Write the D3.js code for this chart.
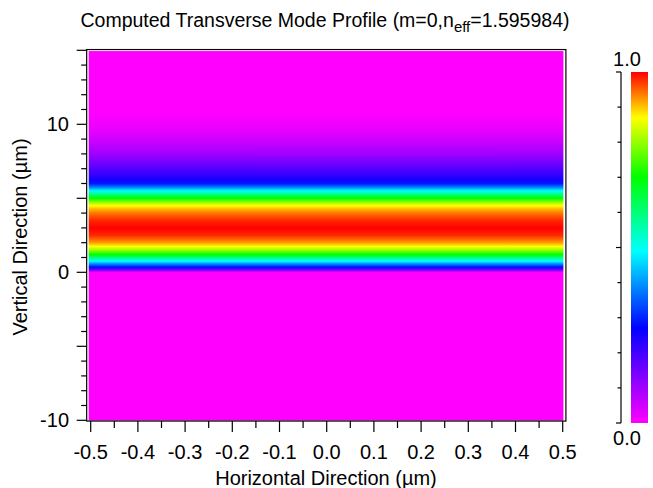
<!DOCTYPE html>
<html>
<head>
<meta charset="utf-8">
<script src="https://cdn.jsdelivr.net/npm/d3@7"></script>
<style>
  body { margin: 0; background: #fff; }
  text { font-family: "Liberation Sans", Arial, sans-serif; fill: #000; }
</style>
</head>
<body>
<script>
// vertical positions (um) and normalized mode intensity
var yPos = [-10, 0, 0.15, 0.35, 0.55, 0.75, 1.0, 1.2, 1.5, 1.75, 2.0, 2.25, 2.5, 2.75, 3.0, 3.25, 3.5, 3.75, 4.0, 4.25, 4.5, 4.75, 5.0, 5.25, 5.5, 5.75, 6.0, 6.25, 6.5, 7.0, 7.5, 8.0, 8.5, 9.0, 9.5, 10.0, 10.5, 11.0, 15];
var intensity = [0, 0, 0.15, 0.28, 0.38, 0.49, 0.6, 0.7, 0.8, 0.87, 0.92, 0.95, 0.98, 0.99, 1.0, 0.99, 0.98, 0.96, 0.94, 0.91, 0.87, 0.79, 0.7, 0.6, 0.5, 0.38, 0.29, 0.25, 0.22, 0.18, 0.14, 0.1, 0.075, 0.05, 0.03, 0.015, 0.006, 0, 0];

// colour map
var cmapStops = [0, 0.27, 0.49, 0.70, 0.87, 1.0];
var cmapColors = ["#ff00ff", "#0000ff", "#00ffff", "#00ff00", "#ffff00", "#ff0000"];

var xTicks = [-0.5, -0.4, -0.3, -0.2, -0.1, 0.0, 0.1, 0.2, 0.3, 0.4, 0.5];
var yLabels = [-10, 0, 10];
var cbTicks = [0, 0.1, 0.2, 0.3, 0.4, 0.5, 0.6, 0.7, 0.8, 0.9, 1.0];

var width = 653, height = 488;
var svg = d3.select('body').append('svg').attr('width', width).attr('height', height);

var x = d3.scaleLinear().domain([-0.5, 0.5]).range([90.7, 562.7]);
var y = d3.scaleLinear().domain([-10, 15]).range([420.3, 50.3]);
var color = d3.scaleLinear().domain(cmapStops).range(cmapColors).clamp(true);

// frame extends slightly past the axis range
var fx0 = x(-0.5085), fx1 = x(0.5068), fy0 = y(15.05), fy1 = y(-10.05);

// mode image as vertical gradient
var defs = svg.append('defs');
var grad = defs.append('linearGradient').attr('id', 'mode')
  .attr('gradientUnits', 'userSpaceOnUse')
  .attr('x1', 0).attr('x2', 0).attr('y1', y(15)).attr('y2', y(-10));
var stops = yPos.map(function(v, i){ return {y: v, c: intensity[i]}; }).reverse();
grad.selectAll('stop').data(stops).enter().append('stop')
  .attr('offset', function(d){ return (y(d.y) - y(15)) / (y(-10) - y(15)); })
  .attr('stop-color', function(d){ return color(d.c); });

svg.append('rect')
  .attr('x', fx0 + 2).attr('y', fy0 + 1.5)
  .attr('width', fx1 - fx0 - 4.5).attr('height', fy1 - fy0 - 2)
  .attr('fill', 'url(#mode)');

svg.append('rect')
  .attr('x', fx0).attr('y', fy0).attr('width', fx1 - fx0).attr('height', fy1 - fy0)
  .attr('fill', 'none').attr('stroke', '#000').attr('stroke-width', 1.2);

// x axis
var xAxisG = svg.append('g');
var xMinor = d3.range(-0.5, 0.501, 0.05);
xAxisG.selectAll('line.minor').data(xMinor).enter().append('line')
  .attr('x1', function(d){ return x(d); }).attr('x2', function(d){ return x(d); })
  .attr('y1', fy1).attr('y2', function(d, i){ return fy1 + (i % 2 === 0 ? 11 : 7); })
  .attr('stroke', '#000').attr('stroke-width', 1.2);
xAxisG.selectAll('text').data(xTicks).enter().append('text')
  .attr('x', function(d){ return x(d); }).attr('y', 459)
  .attr('text-anchor', 'middle').style('font-size', '20px')
  .text(function(d){ return d3.format('.1f')(d).replace('−', '-'); });

// y axis
var yAxisG = svg.append('g');
var yMinor = d3.range(-10, 15.01, 1);
yAxisG.selectAll('line').data(yMinor).enter().append('line')
  .attr('y1', function(d){ return y(d); }).attr('y2', function(d){ return y(d); })
  .attr('x1', fx0).attr('x2', function(d){ return fx0 - (d % 5 === 0 ? 10 : 5.5); })
  .attr('stroke', '#000').attr('stroke-width', 1.2);
yAxisG.selectAll('text').data(yLabels).enter().append('text')
  .attr('x', 69).attr('y', function(d){ return y(d) + 7; })
  .attr('text-anchor', 'end').style('font-size', '20px')
  .text(function(d){ return String(d); });

// titles
var title = svg.append('text').attr('x', 325).attr('y', 27).attr('text-anchor', 'middle').style('font-size', '19.5px');
title.append('tspan').text('Computed Transverse Mode Profile (m=0,n');
title.append('tspan').attr('dy', 5).style('font-size', '15px').text('eff');
title.append('tspan').attr('dy', -5).text('=1.595984)');

svg.append('text').attr('x', 326).attr('y', 485).attr('text-anchor', 'middle')
  .style('font-size', '20px').text('Horizontal Direction (\u00b5m)');
svg.append('text').attr('transform', 'translate(27,237) rotate(-90)').attr('text-anchor', 'middle')
  .style('font-size', '20px').text('Vertical Direction (\u00b5m)');

// colour bar
var cb = d3.scaleLinear().domain([0, 1]).range([423, 72]);
var cbGrad = defs.append('linearGradient').attr('id', 'cbar')
  .attr('x1', 0).attr('x2', 0).attr('y1', 1).attr('y2', 0);
cbGrad.selectAll('stop').data(cmapStops).enter().append('stop')
  .attr('offset', function(d){ return d; })
  .attr('stop-color', function(d, i){ return cmapColors[i]; });
svg.append('rect').attr('x', 631).attr('y', cb(1)).attr('width', 17).attr('height', cb(0) - cb(1))
  .attr('fill', 'url(#cbar)');
svg.append('line').attr('x1', 621).attr('x2', 621).attr('y1', cb(0)).attr('y2', cb(1))
  .attr('stroke', '#000').attr('stroke-width', 1.2);
svg.selectAll('line.cbt').data(cbTicks).enter().append('line')
  .attr('y1', function(d){ return cb(d); }).attr('y2', function(d){ return cb(d); })
  .attr('x1', 621).attr('x2', function(d, i){ return 621 - (i % 5 === 0 ? 5 : 3.5); })
  .attr('stroke', '#000').attr('stroke-width', 1.2);
svg.append('text').attr('x', 627).attr('y', 66).attr('text-anchor', 'middle').style('font-size', '20px').text('1.0');
svg.append('text').attr('x', 627).attr('y', 445).attr('text-anchor', 'middle').style('font-size', '20px').text('0.0');
</script>
</body>
</html>
